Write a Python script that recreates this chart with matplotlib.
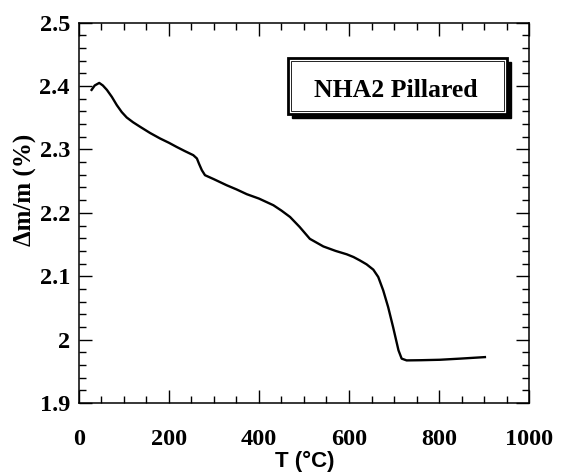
import matplotlib
matplotlib.use('Agg')
import matplotlib.pyplot as plt
from matplotlib.patches import Rectangle
from matplotlib.ticker import MultipleLocator, FormatStrFormatter

# TGA curve
temp = [28, 35, 45, 53, 62, 73, 84, 95, 106, 120, 136, 158, 180, 200, 217,
        235, 254, 262, 267, 273, 280, 300, 328, 350, 373, 400, 432, 450, 469,
        490, 513, 543, 570, 595, 610, 624, 639, 654, 665, 676, 687, 698, 710,
        717, 728, 760, 802, 847, 902]
dmm = [2.394, 2.401, 2.405, 2.401, 2.394, 2.383, 2.370, 2.359, 2.3505, 2.343,
       2.3357, 2.326, 2.3174, 2.3105, 2.304, 2.2975, 2.291, 2.2858, 2.277,
       2.2673, 2.2594, 2.253, 2.2436, 2.237, 2.2294, 2.2225, 2.212, 2.2035,
       2.1935, 2.178, 2.159, 2.147, 2.140, 2.1346, 2.1303, 2.125, 2.1188,
       2.1104, 2.0988, 2.0777, 2.0513, 2.0197, 1.983, 1.970, 1.9672, 1.9675,
       1.9682, 1.970, 1.9724]

serif = 'Liberation Serif'
sans = 'Liberation Sans'

fig = plt.figure(figsize=(5.65, 4.75), dpi=100)
ax = fig.add_axes([0.1398, 0.1516, 0.7965, 0.8006])

ax.plot(temp, dmm, color='k', lw=1.7)

ax.set_xlim(0, 1000)
ax.set_ylim(1.9, 2.5)
ax.xaxis.set_major_locator(MultipleLocator(200))
ax.xaxis.set_minor_locator(MultipleLocator(50))
ax.yaxis.set_major_locator(MultipleLocator(0.1))
ax.yaxis.set_minor_locator(MultipleLocator(0.02))
ax.yaxis.set_major_formatter(FormatStrFormatter('%g'))

ax.tick_params(which='both', direction='in', top=True, right=True, color='k')
ax.tick_params(which='major', length=9.5, width=1.0)
ax.tick_params(which='minor', length=5, width=1.0)
ax.tick_params(axis='x', which='major', pad=19)
ax.tick_params(axis='y', which='major', pad=6.5)
for lab in ax.get_xticklabels() + ax.get_yticklabels():
    lab.set_fontfamily(serif)
    lab.set_fontweight('bold')
    lab.set_fontsize(17.5)
for sp in ax.spines.values():
    sp.set_linewidth(1.1)

ax.set_xlabel('T (°C)', fontfamily=sans, fontweight='bold', fontsize=16)
ax.xaxis.set_label_coords(0.502, -0.127)
ax.set_ylabel('Δm/m (%)', fontfamily=serif, fontweight='bold', fontsize=18,
              va='center')
ax.yaxis.set_label_coords(-0.118, 0.56)

# label box with drop shadow
x0, y0, w, h = 0.4644, 0.7605, 0.4867, 0.1474
ax.add_patch(Rectangle((x0 + 0.0089, y0 - 0.0105), w, h, transform=ax.transAxes,
                       facecolor='k', edgecolor='k', lw=1, zorder=4))
ax.add_patch(Rectangle((x0, y0), w, h, transform=ax.transAxes,
                       facecolor='w', edgecolor='k', lw=2.0, zorder=5))
ax.add_patch(Rectangle((x0 + 0.0067, y0 + 0.0079), w - 0.0134, h - 0.0158,
                       transform=ax.transAxes, facecolor='none',
                       edgecolor='k', lw=0.6, zorder=6))
ax.text(0.7044, 0.8218, 'NHA2 Pillared', transform=ax.transAxes,
        ha='center', va='center', fontfamily=serif, fontweight='bold',
        fontsize=18.5, zorder=7)

fig.savefig('out.png', dpi=100)
